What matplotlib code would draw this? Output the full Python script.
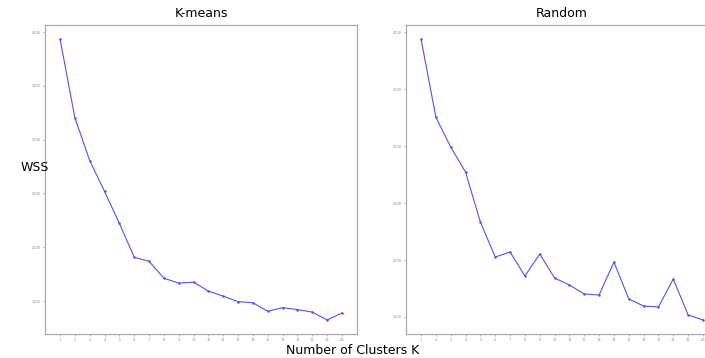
import matplotlib
matplotlib.use("Agg")
import matplotlib.pyplot as plt

k = list(range(1, 21))
wss_kmeans = [3935, 3204, 2806, 2519, 2222, 1907, 1870, 1713, 1667, 1676,
              1593, 1546, 1495, 1485, 1405, 1440, 1422, 1398, 1325, 1389]
wss_random = [3939, 3254, 2991, 2772, 2333, 2026, 2070, 1860, 2053, 1842,
              1781, 1702, 1693, 1982, 1658, 1596, 1588, 1833, 1518, 1474]

fig = plt.figure(figsize=(7.05, 3.58), dpi=100)
ax1 = fig.add_axes([45.2/705, 24/358, 311.6/705, 309/358])
ax2 = fig.add_axes([406.2/705, 24/358, 311.6/705, 309/358])

for ax, vals, title in [(ax1, wss_kmeans, "K-means"), (ax2, wss_random, "Random")]:
    ax.plot(k, vals, color="#5050ff", lw=0.8, marker="o", markersize=0.8)
    ax.set_xlim(0, 21)
    ax.set_xticks(k)
    ax.set_yticks([1500, 2000, 2500, 3000, 3500, 4000])
    ax.tick_params(labelsize=2.5, length=1.5, width=0.5, colors="#888888", pad=1.5)
    for s in ax.spines.values():
        s.set_color("#aaaaaa")
        s.set_linewidth(0.9)
    ax.set_title(title, fontsize=9, pad=6)

fig.text(35/705, 1 - 168/358, "WSS", fontsize=9, ha="center", va="center")
fig.text(0.5, 1 - 350/358, "Number of Clusters K", fontsize=9, ha="center", va="center")

fig.savefig("out.png", dpi=100)
